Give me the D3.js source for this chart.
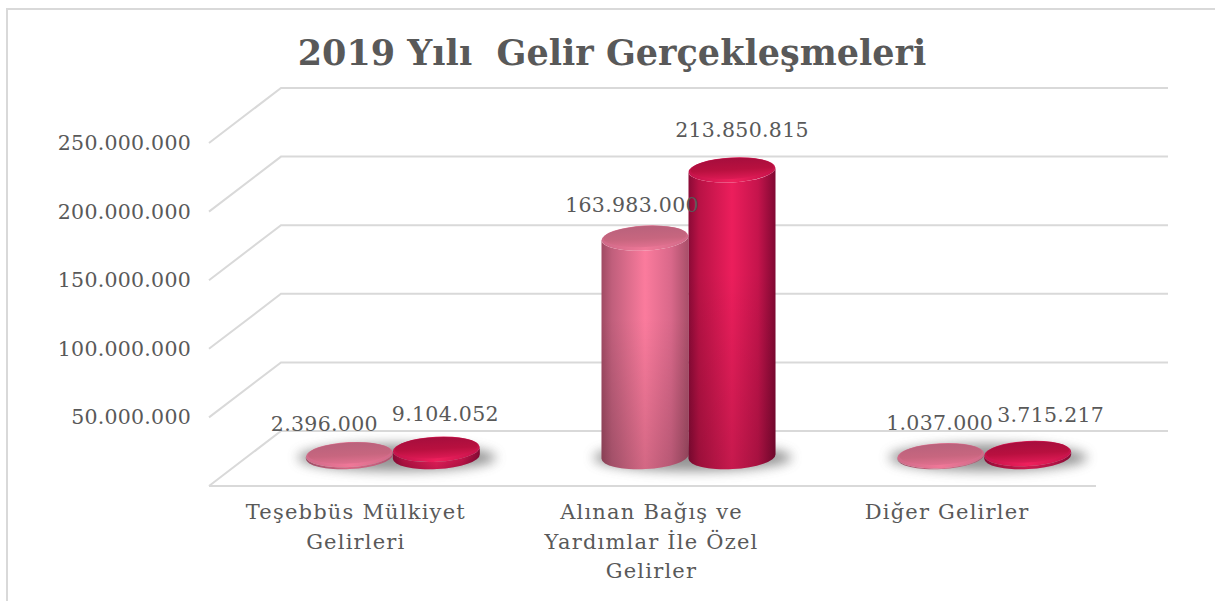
<!DOCTYPE html>
<html>
<head>
<meta charset="utf-8">
<script src="https://d3js.org/d3.v7.min.js"></script>
<style>
  html, body { margin: 0; padding: 0; background: #fff; }
  svg { display: block; }
  text { font-family: "DejaVu Serif", serif; fill: #595959; }
</style>
</head>
<body>
<div id="chart"></div>
<script>
const titleText = '2019 Yılı  Gelir Gerçekleşmeleri'
const categories = ['Teşebbüs Mülkiyet Gelirleri', 'Alınan Bağış ve Yardımlar İle Özel Gelirler', 'Diğer Gelirler']
const categoryLines = [
  ['Teşebbüs Mülkiyet', 'Gelirleri'],
  ['Alınan Bağış ve', 'Yardımlar İle Özel', 'Gelirler'],
  ['Diğer Gelirler']
]
const seriesNames = ['Tahmin', 'Gerçekleşme']
const tahminValues = [2396000, 163983000, 1037000]
const gerceklesmeValues = [9104052, 213850815, 3715217]
const tickValues = [0, 50000000, 100000000, 150000000, 200000000, 250000000]

const width = 1215
const height = 601
// floor front edge and how far the back wall is shifted from it
const front = { left: 209, right: 1096, y: 486 }
const depth = { x: 72, y: -55 }

// hand nudges for the data labels, same order as the values
const labelNudge = {
  Tahmin: [[-25, -18], [-13, -21], [-1, -20]],
  'Gerçekleşme': [[9, -23], [10, -27], [23, -26]]
}

const fmt = d => d3.format(',')(d).replace(/,/g, '.')

const svg = d3.select('#chart').append('svg')
  .attr('width', width)
  .attr('height', height)

const x0 = d3.scaleBand().domain(categories).range([front.left, front.right])
const x1 = d3.scaleBand().domain(seriesNames).range([-87, 87])

// wall scale, measured at the front edge of the floor
const yScale = d3.scaleLinear().domain([0, 250000000]).range([front.y, 143])
// bars stand mid-way in the depth so they come out a bit shorter than the wall
const barHeight = d3.scaleLinear().domain([0, 10000000, 250000000]).range([0, 8, 336])

const defs = svg.append('defs')

function gradient (id, attrs, stops) {
  const g = defs.append('linearGradient').attr('id', id)
  Object.keys(attrs).forEach(k => g.attr(k, attrs[k]))
  stops.forEach(s => g.append('stop')
    .attr('offset', s[0])
    .attr('stop-color', s[1])
    .attr('stop-opacity', s[2] === undefined ? 1 : s[2]))
}

const horiz = { x1: 0, y1: 0, x2: 1, y2: 0 }
const vert = { x1: 0, y1: 0, x2: 0, y2: 1 }

gradient('sideTahmin', horiz, [[0, '#a04a63'], [0.12, '#c05f7c'], [0.5, '#fb7b9d'], [0.8, '#d9688a'], [1, '#a84f69']])
gradient('sideGerceklesme', horiz, [[0, '#8a0a36'], [0.12, '#b81245'], [0.5, '#ec1e5c'], [0.8, '#c5144c'], [1, '#800832']])
gradient('fade', vert, [[0, '#000', 0], [0.35, '#000', 0], [1, '#000', 0.16]])
gradient('capTahmin', vert, [[0, '#b9627c'], [0.6, '#c7667f'], [1, '#e0708f']])
gradient('capGerceklesme', vert, [[0, '#a60e3d'], [0.55, '#b8103f'], [1, '#dc1a54']])
gradient('rimTahmin', horiz, [[0, '#cf6a88'], [0.5, '#ef7898'], [1, '#cf6a88']])
gradient('rimGerceklesme', horiz, [[0, '#c4124a'], [0.5, '#ee205c'], [1, '#c4124a']])

defs.append('filter').attr('id', 'blur')
  .attr('x', '-30%').attr('y', '-60%').attr('width', '160%').attr('height', '220%')
  .append('feGaussianBlur').attr('stdDeviation', 6)

// chart frame
svg.append('rect')
  .attr('x', 7).attr('y', 9)
  .attr('width', 1240).attr('height', 620)
  .attr('fill', '#fff')
  .attr('stroke', '#d9d9d9')
  .attr('stroke-width', 2)

svg.append('text')
  .attr('x', 612)
  .attr('y', 65)
  .attr('text-anchor', 'middle')
  .attr('font-size', 35)
  .attr('font-weight', 'bold')
  .style('white-space', 'pre')
  .text(titleText)

// walls and floor
const grid = svg.append('g').attr('fill', 'none').attr('stroke', '#d9d9d9').attr('stroke-width', 2)
tickValues.forEach(t => {
  const y = yScale(t)
  if (t === 0) {
    grid.append('path').attr('d', d3.line()([[front.left, y], [front.right, y]]))
  }
  grid.append('path').attr('d', d3.line()([
    [front.left, y],
    [front.left + depth.x, y + depth.y],
    [front.right + depth.x, y + depth.y]
  ]))
})

// y axis labels
svg.append('g').selectAll('text')
  .data(tickValues.filter(t => t > 0))
  .enter().append('text')
  .attr('x', 191)
  .attr('y', d => yScale(d) + 7)
  .attr('text-anchor', 'end')
  .attr('font-size', 20.5)
  .attr('letter-spacing', 0.25)
  .text(fmt)

// category labels
categories.forEach((c, i) => {
  const label = svg.append('text')
    .attr('text-anchor', 'middle')
    .attr('font-size', 21)
    .attr('letter-spacing', 1.2)
  categoryLines[i].forEach((line, j) => {
    label.append('tspan')
      .attr('x', x0(c) + x0.bandwidth() / 2 - 1)
      .attr('y', 519 + j * 29.5)
      .text(line)
  })
})

// cylinders
const baseY = (front.y + (front.y + depth.y)) / 2 - 2
const barsData = []
seriesNames.forEach((s, si) => {
  const values = si === 0 ? tahminValues : gerceklesmeValues
  values.forEach((v, i) => barsData.push({ series: s, key: si === 0 ? 'Tahmin' : 'Gerceklesme', i, value: v }))
})
const rx = x1.bandwidth() / 2
const ry = 12.5
const tilt = 3 // ellipses lean a little, the 3d view is rotated
const tiltY = rx * Math.sin(tilt * Math.PI / 180)

function barX (d) {
  return x0(categories[d.i]) + x0.bandwidth() / 2 + depth.x / 2 + x1(d.series) + rx
}

// shadows go first so nothing sits under them
const shadows = svg.append('g')
categories.forEach((c, i) => {
  shadows.append('ellipse')
    .attr('cx', barX({ i, series: seriesNames[0] }) + rx + 4)
    .attr('cy', baseY + 1)
    .attr('rx', rx * 2 + 12)
    .attr('ry', ry + 1)
    .attr('fill', '#666')
    .attr('opacity', 0.7)
    .attr('filter', 'url(#blur)')
})

const bars = svg.selectAll('.bar')
  .data(barsData)
  .enter().append('g')
  .attr('class', 'bar')
  .attr('transform', d => 'translate(' + barX(d) + ',' + baseY + ')')

function sidePath (h) {
  return 'M' + (-rx) + ',' + (tiltY - h) +
    'L' + (-rx) + ',' + tiltY +
    'A' + rx + ',' + ry + ' ' + (-tilt) + ' 0 0 ' + rx + ',' + (-tiltY) +
    'L' + rx + ',' + (-tiltY - h) +
    'A' + rx + ',' + ry + ' ' + (-tilt) + ' 0 1 ' + (-rx) + ',' + (tiltY - h) + 'Z'
}

bars.append('path')
  .attr('d', d => sidePath(barHeight(d.value)))
  .attr('fill', d => 'url(#side' + d.key + ')')

bars.append('path')
  .attr('d', d => sidePath(barHeight(d.value)))
  .attr('fill', 'url(#fade)')

bars.append('ellipse')
  .attr('transform', d => 'translate(0,' + (-barHeight(d.value)) + ') rotate(' + (-tilt) + ')')
  .attr('rx', rx)
  .attr('ry', ry)
  .attr('fill', d => 'url(#rim' + d.key + ')')

bars.append('ellipse')
  .attr('transform', d => 'translate(0,' + (-barHeight(d.value) - 1.5) + ') rotate(' + (-tilt) + ')')
  .attr('rx', rx - 2)
  .attr('ry', ry - 2)
  .attr('fill', d => 'url(#cap' + d.key + ')')

// data labels on top of everything
svg.append('g').selectAll('text')
  .data(barsData)
  .enter().append('text')
  .attr('x', d => barX(d) + labelNudge[d.series][d.i][0])
  .attr('y', d => baseY - barHeight(d.value) - ry + labelNudge[d.series][d.i][1] + 7)
  .attr('text-anchor', 'middle')
  .attr('font-size', 20.5)
  .attr('letter-spacing', 0.3)
  .text(d => fmt(d.value))
</script>
</body>
</html>
